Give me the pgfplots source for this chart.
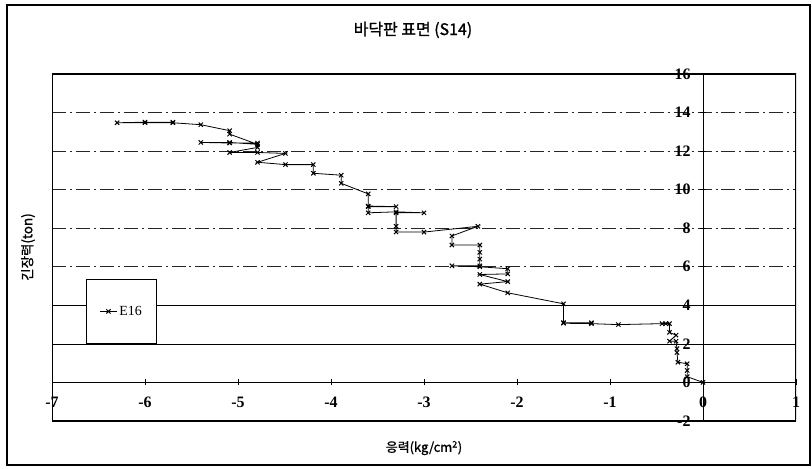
\documentclass[border=0pt]{standalone}
\usepackage{fontspec}
\setmainfont{Liberation Serif}
\newfontfamily\cjk{Noto Sans CJK KR}
\newfontfamily\cjkb[FakeBold=1.2]{Noto Sans CJK KR}
\usepackage{pgfplots}
\pgfplotsset{compat=1.18}
\begin{document}
\begin{tikzpicture}
\path (-52bp,-48bp) rectangle (760bp,421bp);
\draw[line width=1.3pt] (-45bp,-44bp) rectangle (758bp,416bp);
\begin{axis}[
  scale only axis, width=744bp, height=347bp,
  xmin=-7, xmax=1, ymin=-2, ymax=16,
  axis lines=middle,
  axis line style={-, line width=0.9pt},
  hide obscured x ticks=false, hide obscured y ticks=false,
  xtick={-7,-6,...,1},
  ytick={-2,0,2,4,16},
  extra y ticks={6,8,10,12,14},
  ymajorgrids,
  grid style={black, line width=0.7pt},
  extra y tick style={grid style={black!85, line width=0.6pt, dash pattern=on 14pt off 4pt on 2pt off 4pt}},
  major tick length=6bp,
  tick style={black, line width=0.7pt},
  /pgf/number format/assume math mode=true,
  tick label style={font=\fontsize{16}{18}\selectfont\bfseries},
  xticklabel style={yshift=-8bp},
  yticklabel style={xshift=-6bp},
  legend style={at={(0.046,0.41)}, anchor=north west, draw=black, line width=0.7pt,
    inner xsep=13bp, inner ysep=25bp, font=\fontsize{14}{16}\selectfont},
  legend cell align=left,
]
\addplot[black, line width=0.8pt, mark=x, mark size=3bp, mark options={line width=1pt}] coordinates {
(0,0) (-0.17,0.3) (-0.17,0.62) (-0.17,0.97) (-0.27,1.05) (-0.28,1.55) (-0.28,1.75)
(-0.29,2.14) (-0.36,2.14) (-0.29,2.45) (-0.36,2.6) (-0.36,3.05) (-0.40,3.05) (-0.44,3.05)
(-0.91,3.0) (-1.2,3.05) (-1.5,3.07) (-1.2,3.1) (-1.5,3.1) (-1.5,4.08)
(-2.1,4.65) (-2.4,5.1) (-2.1,5.23) (-2.4,5.6) (-2.1,5.63) (-2.1,5.9) (-2.4,6.0)
(-2.7,6.05) (-2.4,6.05) (-2.4,6.4) (-2.4,6.75) (-2.4,7.13) (-2.7,7.13) (-2.7,7.6)
(-2.42,8.1) (-3.0,7.8) (-3.3,7.8) (-3.3,8.1) (-3.3,8.8) (-3.0,8.8) (-3.3,8.85)
(-3.6,8.8) (-3.6,9.12) (-3.3,9.12) (-3.6,9.15) (-3.6,9.78)
(-3.89,10.33) (-3.89,10.75) (-4.19,10.85) (-4.19,11.3) (-4.49,11.3) (-4.79,11.42)
(-4.49,11.88) (-4.79,11.93) (-5.09,11.93) (-4.79,12.19) (-4.79,12.42) (-5.09,12.42)
(-5.4,12.45) (-5.09,12.45) (-4.79,12.35) (-5.09,12.88) (-5.09,13.06) (-5.4,13.37)
(-5.7,13.47) (-6.0,13.47) (-6.3,13.47) (-6.0,13.5) (-5.7,13.5)
};
\addlegendentry{E16}
\draw[line width=1.1pt] (rel axis cs:0,0) rectangle (rel axis cs:1,1);
\end{axis}
\node[font=\cjkb\fontsize{16}{18}\selectfont] at (361bp,391bp) {바닥판 표면 (S14)};
\node[font=\cjkb\fontsize{13}{15}\selectfont] at (372bp,-27bp) {응력(kg/cm\textsuperscript{2})};
\node[rotate=90, font=\cjkb\fontsize{13.5}{15}\selectfont] at (-24bp,174bp) {긴장력(ton)};
\end{tikzpicture}
\end{document}
